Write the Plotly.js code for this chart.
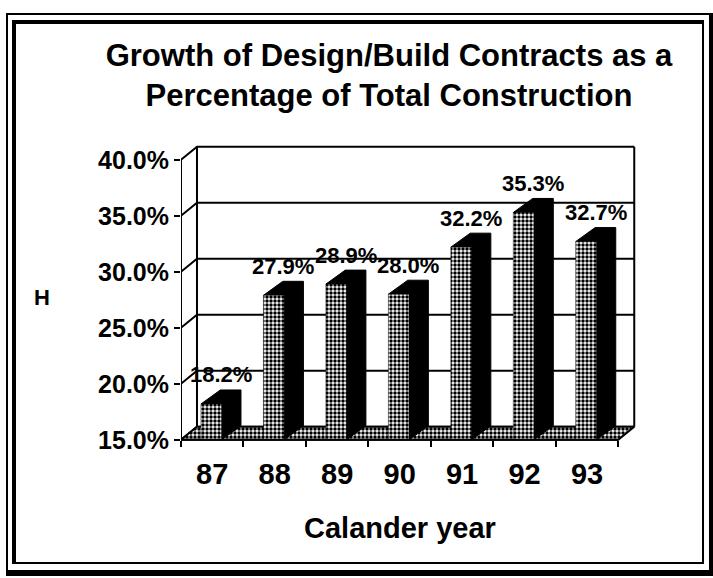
<!DOCTYPE html>
<html>
<head>
<meta charset="utf-8">
<script src="https://cdn.plot.ly/plotly-3.0.1.min.js"></script>
<style>
  html, body { margin: 0; padding: 0; background: #fff; }
  #wrap { position: relative; width: 713px; height: 578px; overflow: hidden; }
  #chart { position: absolute; left: 0; top: 0; width: 713px; height: 578px; }
  .frame { position: absolute; box-sizing: border-box; border-style: solid; border-color: #000; pointer-events: none; }
  #outer { left: 6px; top: 13px; width: 707px; height: 563px; border-width: 2px 4px 6px 2px; }
  #inner { left: 12px; top: 20px; width: 692px; height: 544px; border-width: 4px 2px 2px 4px; }
</style>
</head>
<body>
<div id="wrap">
  <div id="chart"></div>
  <div id="outer" class="frame"></div>
  <div id="inner" class="frame"></div>
</div>
<script>
// ---- data ----
const years = ['87', '88', '89', '90', '91', '92', '93'];
const shares = [18.2, 27.9, 28.9, 28.0, 32.2, 35.3, 32.7];
const yTickVals = [15, 20, 25, 30, 35, 40];
const yTickText = ['15.0%', '20.0%', '25.0%', '30.0%', '35.0%', '40.0%'];
const chartTitle = 'Growth of Design/Build Contracts as a<br>Percentage of Total Construction';
const xTitle = 'Calander year';
const yTitle = 'H';

// ---- 3D look (styling) ----
const FONT = 'Liberation Sans, Arial, Helvetica, sans-serif';
const yBase = yTickVals[0];
const yTop = yTickVals[yTickVals.length - 1];
const xLo = -0.5, xHi = years.length - 0.5;
const wallDx = 0.256, wallDy = 1.16;   // depth of back wall
const barDx = 0.31, barDy = 1.25;      // depth of each bar
const barL = -0.18, barR = 0.15;       // front face relative to category centre
const stipple = { shape: '.', fgcolor: '#000', bgcolor: '#fff', size: 4, solidity: 0.6 };

// back wall lines (gridlines + connectors + edges)
const wx = [], wy = [];
function seg(pts) { pts.forEach(p => { wx.push(p[0]); wy.push(p[1]); }); wx.push(null); wy.push(null); }
yTickVals.forEach(t => seg([[xLo, t], [xLo + wallDx, t + wallDy], [xHi + wallDx, t + wallDy]]));
seg([[xLo + wallDx, yBase + wallDy], [xLo + wallDx, yTop + wallDy]]);
seg([[xHi + wallDx, yBase + wallDy], [xHi + wallDx, yTop + wallDy]]);

// floor
const floorX = [xLo, xHi, xHi + wallDx, xLo + wallDx, xLo];
const floorY = [yBase, yBase, yBase + wallDy, yBase + wallDy, yBase];

// bar sides / tops (black) and fronts (stippled)
const sx = [], sy = [], fx = [], fy = [];
shares.forEach((v, i) => {
  const l = i + barL, r = i + barR;
  [[l, v], [l + barDx, v + barDy], [r + barDx, v + barDy], [r + barDx, yBase + barDy], [r, yBase], [r, v], [l, v]]
    .forEach(p => { sx.push(p[0]); sy.push(p[1]); });
  sx.push(null); sy.push(null);
  [[l, yBase], [r, yBase], [r, v], [l, v], [l, yBase]].forEach(p => { fx.push(p[0]); fy.push(p[1]); });
  fx.push(null); fy.push(null);
});

const traces = [
  { x: wx, y: wy, mode: 'lines', line: { color: '#000', width: 2 }, hoverinfo: 'skip', connectgaps: false },
  { x: floorX, y: floorY, mode: 'lines', fill: 'toself', fillcolor: '#fff', fillpattern: stipple,
    line: { color: '#000', width: 2 }, hoverinfo: 'skip' },
  { x: sx, y: sy, mode: 'lines', fill: 'toself', fillcolor: '#000', line: { color: '#000', width: 1 },
    hoverinfo: 'skip', connectgaps: false },
  { x: fx, y: fy, mode: 'lines', fill: 'toself', fillcolor: '#fff', fillpattern: stipple,
    line: { color: '#000', width: 0.5 }, hoverinfo: 'skip', connectgaps: false },
  { x: [xLo, xLo, xHi], y: [yTop, yBase, yBase], mode: 'lines', line: { color: '#000', width: 2 }, hoverinfo: 'skip' }
];

const yLo = 14, yHi = 41.5;
const annotations = shares.map((v, i) => ({
  x: i + 0.14, y: v + 2.6, xref: 'x', yref: 'y', text: v.toFixed(1) + '%', showarrow: false,
  font: { family: FONT, size: 22, weight: 'bold', color: '#000' }, xanchor: 'center', yanchor: 'middle'
}));
annotations.push({
  x: (years.length - 1) / 2, y: -0.25, xref: 'x', yref: 'paper', text: xTitle, showarrow: false,
  font: { family: FONT, size: 29, weight: 'bold', color: '#000' }, xanchor: 'center', yanchor: 'middle'
});
annotations.push({
  x: -0.305, y: 0.497, xref: 'paper', yref: 'paper', text: yTitle, showarrow: false,
  font: { family: FONT, size: 22, weight: 'bold', color: '#000' }, xanchor: 'center', yanchor: 'middle'
});

const layout = {
  width: 713, height: 578,
  margin: { l: 181, r: 76, t: 143, b: 127, pad: 0 },
  paper_bgcolor: '#fff', plot_bgcolor: 'rgba(0,0,0,0)',
  showlegend: false,
  title: {
    text: chartTitle, xref: 'container', yref: 'container', x: 389 / 713, xanchor: 'center',
    y: 1 - 66 / 578, yanchor: 'top',
    font: { family: FONT, size: 31, weight: 'bold', color: '#000' }
  },
  xaxis: {
    range: [xLo, years.length - 0.2], anchor: 'free', position: (yBase - yLo) / (yHi - yLo),
    tickmode: 'array', tickvals: years.map((_, i) => i), ticktext: years,
    ticks: '', showgrid: false, zeroline: false, showline: false, ticklabelstandoff: 14,
    tickfont: { family: FONT, size: 29, weight: 'bold', color: '#000' },
    minor: { ticks: 'outside', tick0: xLo, dtick: 1, ticklen: 6, tickwidth: 2, tickcolor: '#000', showgrid: false },
    fixedrange: true
  },
  yaxis: {
    range: [yLo, yHi], tickmode: 'array', tickvals: yTickVals, ticktext: yTickText,
    ticks: 'outside', ticklen: 6, tickwidth: 2, tickcolor: '#000',
    showgrid: false, zeroline: false, showline: false,
    tickfont: { family: FONT, size: 25, weight: 'bold', color: '#000' },
    fixedrange: true
  },
  annotations: annotations
};

Plotly.newPlot('chart', traces, layout, { staticPlot: true, displayModeBar: false });
</script>
</body>
</html>
